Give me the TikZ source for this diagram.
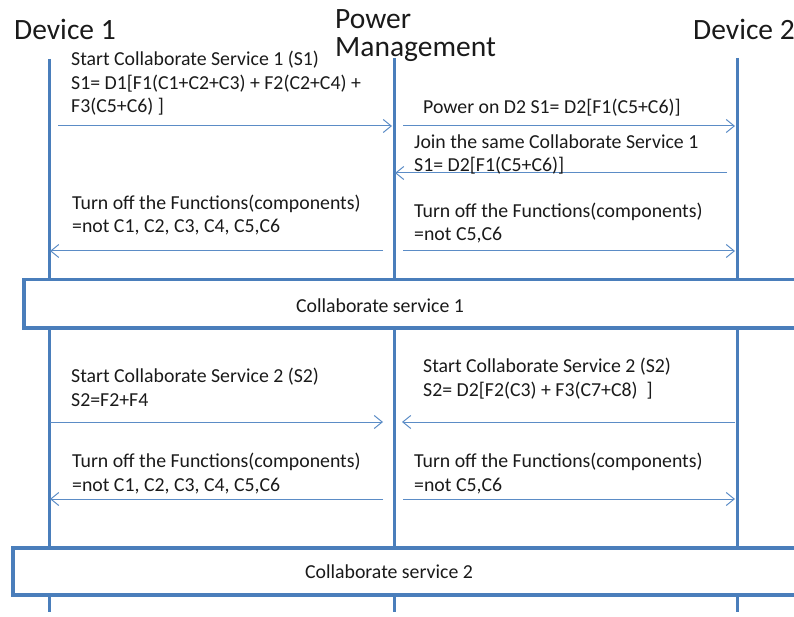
\documentclass[tikz,border=0pt]{standalone}
\usepackage{fontspec}
\setmainfont{Carlito}
\usetikzlibrary{arrows.meta,positioning}
\definecolor{lineblue}{HTML}{4A7EBB}
\definecolor{msgblue}{HTML}{5B8CC6}
\definecolor{inktext}{HTML}{1A1A1A}

\begin{document}
\begin{tikzpicture}[
  x=1pt, y=-1pt,
  head/.style={font=\fontsize{29.5}{28}\selectfont, text=inktext, inner sep=0pt, align=left},
  lifeline/.style={draw=lineblue, line width=3pt},
  frame/.style={draw=lineblue, line width=3.5pt, fill=white, inner sep=0pt, font=\fontsize{19.5}{23.5}\selectfont, text=inktext},
  msg/.style={-{Straight Barb[length=8pt,width=13pt,line width=1pt]}, line width=1pt, draw=msgblue},
  lbl/.style={font=\fontsize{19.8}{23.5}\selectfont, text=inktext, inner sep=0pt, align=left, anchor=base west}
]
\useasboundingbox (0,0) rectangle (794,617);

% Participants
\node[head, anchor=base west] (dev1) at (14,40) {Device 1};
\node[head, anchor=base west] (pm) at (335,57) {Power\\Management};
\node[head, anchor=base west] (dev2) at (693,40) {Device 2};

% Lifelines
\coordinate (d1top) at (49,59);
\coordinate (d1end) at (49,612);
\coordinate (pmtop) at (394,58);
\coordinate (pmend) at (394,612);
\coordinate (d2top) at (737,58);
\coordinate (d2end) at (737,612);
\draw[lifeline] (d1top) -- (d1end);
\draw[lifeline] (pmtop) -- (pmend);
\draw[lifeline] (d2top) -- (d2end);

% Service bars
\node[frame, minimum width=776pt, minimum height=48pt, anchor=north west] (svc1) at (22,278) {};
\node[lbl, anchor=center] (svc1txt) at (380,306) {Collaborate service 1};
\node[frame, minimum width=787pt, minimum height=47pt, anchor=north west] (svc2) at (11,546) {};
\node[lbl, anchor=center] (svc2txt) at (389,572) {Collaborate service 2};

% Service 1 messages
\coordinate (m1a) at (58,126);  \coordinate (m1b) at (392,126);
\coordinate (m2a) at (403,126); \coordinate (m2b) at (735,126);
\coordinate (m3a) at (727,173); \coordinate (m3b) at (395,173);
\coordinate (m4a) at (383,251); \coordinate (m4b) at (50,251);
\coordinate (m5a) at (403,251); \coordinate (m5b) at (735,251);
\draw[msg] (m1a) -- (m1b);
\draw[msg] (m2a) -- (m2b);
\draw[msg] (m3a) -- (m3b);
\draw[msg] (m4a) -- (m4b);
\draw[msg] (m5a) -- (m5b);

\node[lbl] (t1) at (71,113) {Start Collaborate Service 1 (S1)\\S1= D1[F1(C1+C2+C3) + F2(C2+C4) +\\F3(C5+C6) ]};
\node[lbl] (t2) at (423,114) {Power on D2 S1= D2[F1(C5+C6)]};
\node[lbl] (t3) at (414,172) {Join the same Collaborate Service 1\\S1= D2[F1(C5+C6)]};
\node[lbl] (t4) at (72,233) {Turn off the Functions(components)\\=not C1, C2, C3, C4, C5,C6};
\node[lbl] (t5) at (414,241) {Turn off the Functions(components)\\=not C5,C6};

% Service 2 messages
\coordinate (m6a) at (50,422);  \coordinate (m6b) at (383,422);
\coordinate (m7a) at (735,422); \coordinate (m7b) at (402,422);
\coordinate (m8a) at (383,499); \coordinate (m8b) at (50,499);
\coordinate (m9a) at (403,499); \coordinate (m9b) at (735,499);
\draw[msg] (m6a) -- (m6b);
\draw[msg] (m7a) -- (m7b);
\draw[msg] (m8a) -- (m8b);
\draw[msg] (m9a) -- (m9b);

\node[lbl] (t6) at (71,406) {Start Collaborate Service 2 (S2)\\S2=F2+F4};
\node[lbl] (t7) at (423,396) {Start Collaborate Service 2 (S2)\\S2= D2[F2(C3) + F3(C7+C8)\ \ ]};
\node[lbl] (t8) at (72,491) {Turn off the Functions(components)\\=not C1, C2, C3, C4, C5,C6};
\node[lbl] (t9) at (414,491) {Turn off the Functions(components)\\=not C5,C6};
\end{tikzpicture}
\end{document}
